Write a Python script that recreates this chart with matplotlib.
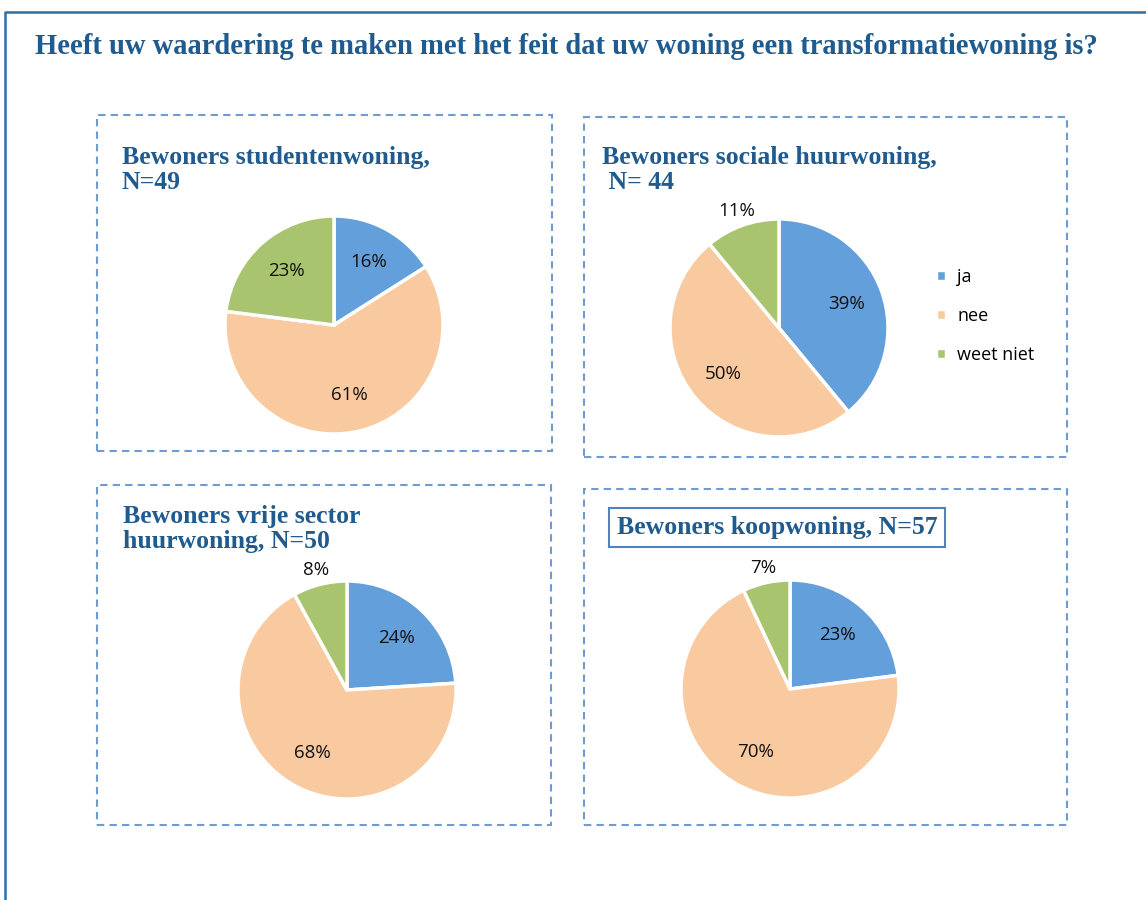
import numpy as np
import matplotlib.pyplot as plt
from matplotlib.patches import Rectangle
from matplotlib.lines import Line2D

W, H = 1146, 900

categories = ['ja', 'nee', 'weet niet']
colors = ['#629FDB', '#F9C9A0', '#A9C46E']

titles = ['Bewoners studentenwoning,\nN=49',
          'Bewoners sociale huurwoning,\n N= 44',
          'Bewoners vrije sector\nhuurwoning, N=50',
          'Bewoners koopwoning, N=57']
student = [16, 61, 23]
sociaal = [39, 50, 11]
vrije_sector = [24, 68, 8]
koop = [23, 70, 7]
series = [student, sociaal, vrije_sector, koop]

main_title = 'Heeft uw waardering te maken met het feit dat uw woning een transformatiewoning is?'

# layout in pixels: dashed box (x0, y0, x1, y1), pie centre and radius, title pos
boxes = [(97, 115, 552, 451), (584, 117, 1067, 457),
         (97, 485, 551, 825), (584, 489, 1067, 825)]
centres = [(334, 325), (779, 328), (347, 690), (790, 689)]
radius = 109
title_pos = [(122, 146), (602, 146), (123, 505), (617, 516)]

dark_blue = '#1F5B8E'
box_blue = '#6E9BD1'
serif = 'Liberation Serif'
sans = ['Open Sans', 'DejaVu Sans']


def fx(x):
    return x / W


def fy(y):
    return 1 - y / H


fig = plt.figure(figsize=(W / 100, H / 100), dpi=100)

# outer frame, only left and top visible
fig.add_artist(Line2D([fx(5), fx(5), fx(1150)], [fy(905), fy(12), fy(12)],
                      color='#2A6EA6', lw=1.8, transform=fig.transFigure))

fig.text(fx(35), fy(47), main_title, fontsize=20.6, fontweight='bold',
         family=serif, color=dark_blue, va='center', ha='left')

for i, vals in enumerate(series):
    x0, y0, x1, y1 = boxes[i]
    fig.add_artist(Rectangle((fx(x0), fy(y1)), fx(x1 - x0), (y1 - y0) / H,
                             fill=False, edgecolor=box_blue, lw=1.5,
                             linestyle=(0, (3.5, 2.5)),
                             transform=fig.transFigure))

    cx, cy = centres[i]
    ax = fig.add_axes([fx(cx - radius), fy(cy + radius),
                       2 * radius / W, 2 * radius / H])
    wedges, _ = ax.pie(vals, colors=colors, startangle=90, counterclock=False,
                       wedgeprops=dict(edgecolor='white', linewidth=2.5))
    ax.set_xlim(-1, 1)
    ax.set_ylim(-1, 1)
    ax.set_aspect('equal')
    ax.axis('off')

    total = sum(vals)
    start = 90
    for v in vals:
        theta = start - v / total * 360 / 2
        start -= v / total * 360
        d = 1.14 if v < 12 else 0.66
        ax.text(d * np.cos(np.radians(theta)), d * np.sin(np.radians(theta)),
                f'{v}%', ha='center', va='center', fontsize=13.5, family=sans,
                color='#111111')

    tx, ty = title_pos[i]
    bbox = None
    if i == 3:
        bbox = dict(boxstyle='square,pad=0.3', facecolor='white',
                    edgecolor='#4F81BD', lw=1.5)
    fig.text(fx(tx), fy(ty), titles[i], fontsize=18.5, fontweight='bold',
             family=serif, color=dark_blue, va='top', ha='left',
             linespacing=1.1, bbox=bbox)

    if i == 1:
        ax.legend(wedges, categories, loc='center left',
                  bbox_to_anchor=(fx(920), fy(316)),
                  bbox_transform=fig.transFigure, frameon=False,
                  handlelength=0.55, handleheight=0.55, handletextpad=0.6,
                  labelspacing=1.15, prop=dict(family=sans, size=13))

fig.savefig('out.png', dpi=100)
